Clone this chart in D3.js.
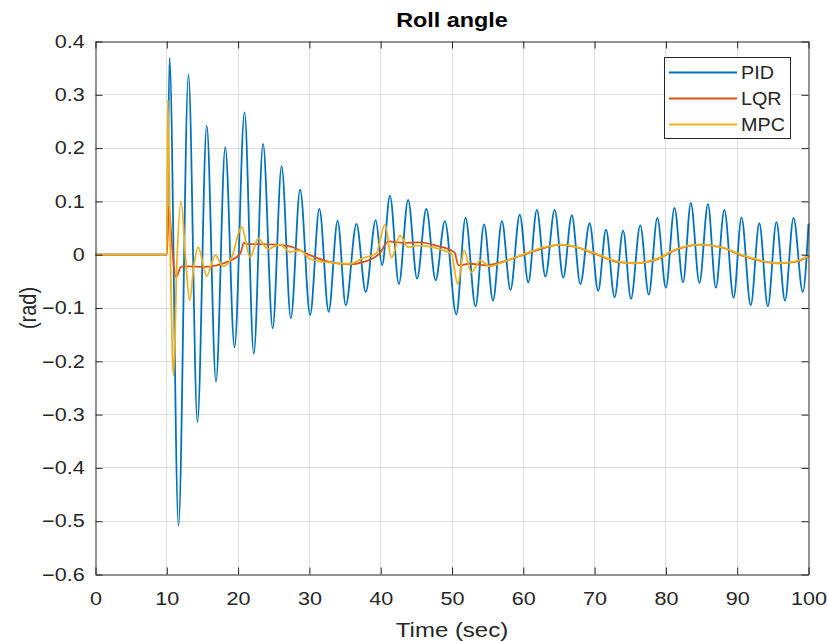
<!DOCTYPE html>
<html>
<head>
<meta charset="utf-8">
<script src="https://cdn.jsdelivr.net/npm/d3@7"></script>
<style>
  body { margin: 0; background: #fff; }
  text { font-family: "Liberation Sans", Arial, sans-serif; fill: #262626; }
</style>
</head>
<body>
<div id="chart"></div>
<script>
// ticks
const xTicks = [0, 10, 20, 30, 40, 50, 60, 70, 80, 90, 100];
const yTicks = [-0.6, -0.5, -0.4, -0.3, -0.2, -0.1, 0, 0.1, 0.2, 0.3, 0.4];

// series names
const seriesNames = ["PID", "LQR", "MPC"];
const seriesColors = ["#0072BD", "#D95319", "#EDB120"];

// PID roll angle: [time (sec), rad], read from the peaks / troughs
const pid = [
  [0, 0], [10, 0], [10.38, 0.369], [11.64, -0.508], [13.04, 0.338], [14.3, -0.314],
  [15.6, 0.242], [16.9, -0.238], [18.2, 0.202], [19.5, -0.174], [20.9, 0.267],
  [22.2, -0.186], [23.5, 0.208], [24.85, -0.138], [26.1, 0.166], [27.4, -0.119],
  [28.7, 0.122], [30.1, -0.113], [31.4, 0.086], [32.7, -0.107], [33.96, 0.064],
  [35.1, -0.095], [36.6, 0.058], [37.9, -0.070], [39.3, 0.065], [40.2, -0.020],
  [41.3, 0.111], [42.55, -0.055], [43.85, 0.103], [45.1, -0.045], [46.4, 0.086],
  [47.7, -0.048], [49.0, 0.063], [50.6, -0.112], [51.9, 0.069], [53.3, -0.097],
  [54.5, 0.057], [55.75, -0.086], [57.0, 0.063], [58.2, -0.066], [59.5, 0.075],
  [60.7, -0.052], [61.9, 0.084], [63.1, -0.041], [64.4, 0.084], [65.6, -0.043],
  [66.8, 0.074], [68.0, -0.055], [69.3, 0.059], [70.5, -0.068], [71.6, 0.047],
  [72.8, -0.080], [74.0, 0.045], [75.1, -0.083], [76.4, 0.055], [77.6, -0.075],
  [78.8, 0.069], [80.0, -0.062], [81.2, 0.088], [82.4, -0.052], [83.5, 0.097],
  [84.7, -0.053], [85.9, 0.095], [87.0, -0.062], [88.2, 0.084], [89.5, -0.081],
  [90.6, 0.070], [91.9, -0.095], [93.1, 0.059], [94.3, -0.097], [95.5, 0.061],
  [96.7, -0.086], [97.9, 0.069], [99.2, -0.070], [100, 0.058]
];

// LQR roll angle
const lqr = [
  [0, 0], [10, 0], [10.3, 0.091], [10.7, 0.02], [11.3, -0.042], [12.0, -0.023],
  [13.0, -0.022], [15.0, -0.023], [17.0, -0.020], [18.4, -0.014], [20.3, 0.002],
  [20.8, 0.022], [21.3, 0.020], [23.0, 0.020], [25.4, 0.019], [27.7, 0.014],
  [30.1, -0.001], [32.9, -0.014], [35.7, -0.018], [37.5, -0.014], [39.9, 0.003],
  [41.05, 0.025], [43.2, 0.022], [45.5, 0.023], [47.8, 0.017], [49.9, 0.008],
  [50.4, 0.003], [50.9, -0.020], [52.5, -0.017], [54.8, -0.020], [56, -0.017],
  [59.7, -0.002], [63, 0.013], [65.3, 0.019], [67.2, 0.015], [70, 0.002],
  [73.3, -0.014], [75.6, -0.016], [78.9, -0.008], [81.2, 0.008], [84.9, 0.019],
  [87.7, 0.014], [91, -0.003], [95.7, -0.016], [98, -0.014], [100, -0.003]
];

// MPC roll angle
const mpc = [
  [0, 0], [10, 0], [10.15, 0.29], [10.5, 0.0], [10.94, -0.227], [11.4, -0.02],
  [12.0, 0.100], [12.6, 0.0], [13.2, -0.086], [13.8, -0.02], [14.4, 0.014],
  [15.6, -0.040], [16.8, -0.001], [17.9, -0.022], [19.1, -0.005], [20.5, 0.052],
  [21.7, -0.005], [22.8, 0.030], [24.2, 0.011], [25.9, 0.019], [27.3, 0.005],
  [28.7, 0.008], [30.1, -0.008], [32.4, -0.014], [35.7, -0.017], [37.6, -0.006],
  [39.4, 0.003], [40.6, 0.057], [41.5, -0.006], [42.7, 0.036], [43.85, 0.014],
  [45.0, 0.017], [46.9, 0.015], [48.75, 0.008], [49.9, 0.002], [50.8, -0.055],
  [51.7, 0.008], [52.7, -0.033], [54.0, -0.011], [55.3, -0.022], [56.5, -0.017],
  [59.7, -0.001], [63, 0.014], [65.3, 0.019], [67.2, 0.015], [70, 0.003],
  [73.3, -0.013], [75.6, -0.016], [78.9, -0.007], [81.2, 0.009], [84.9, 0.019],
  [87.7, 0.014], [91, -0.002], [95.7, -0.016], [98, -0.013], [100, -0.003]
];

const width = 827, height = 642;
const plot = { left: 95.5, right: 808.5, top: 41.5, bottom: 574.5 };
const stretch = 1.2;   // the figure text is a bit wider than it is tall

const svg = d3.select("#chart").append("svg")
  .attr("width", width)
  .attr("height", height);

const x = d3.scaleLinear().domain([0, 100]).range([plot.left, plot.right]);
const y = d3.scaleLinear().domain([-0.6, 0.4]).range([plot.bottom, plot.top]);
const crisp = v => Math.round(v - 0.5) + 0.5;

// grid
const grid = svg.append("g")
  .attr("stroke", "#262626")
  .attr("stroke-opacity", 0.15)
  .attr("stroke-width", 1);

grid.selectAll("line.vx")
  .data(xTicks.slice(1, -1))
  .join("line")
  .attr("x1", d => crisp(x(d))).attr("x2", d => crisp(x(d)))
  .attr("y1", plot.top).attr("y2", plot.bottom);

grid.selectAll("line.hy")
  .data(yTicks.slice(1, -1))
  .join("line")
  .attr("y1", d => crisp(y(d))).attr("y2", d => crisp(y(d)))
  .attr("x1", plot.left).attr("x2", plot.right);

// lines
const line = d3.line()
  .x(d => x(d[0]))
  .y(d => y(d[1]))
  .curve(d3.curveMonotoneX);

[pid, lqr, mpc].forEach((data, i) => {
  svg.append("path")
    .datum(data)
    .attr("fill", "none")
    .attr("stroke", seriesColors[i])
    .attr("stroke-width", 1.8)
    .attr("stroke-linejoin", "round")
    .attr("d", line);
});

// axes (ticks pointing inward, box on)
const tickLen = 7;
const fontSize = 18;

const styleAxis = g => {
  g.select(".domain").attr("stroke", "#262626").attr("stroke-width", 1);
  g.selectAll(".tick line").attr("stroke", "#262626");
  g.selectAll("text").attr("font-size", fontSize).attr("fill", "#262626")
    .attr("font-family", '"Liberation Sans", Arial, sans-serif');
};

svg.append("g")
  .attr("transform", `translate(0,${plot.bottom})`)
  .call(d3.axisBottom(x).tickValues(xTicks).tickSizeInner(-tickLen).tickSizeOuter(0).tickPadding(18))
  .call(styleAxis)
  .selectAll("text").attr("transform", `scale(${stretch},1)`);

svg.append("g")
  .attr("transform", `translate(0,${plot.top})`)
  .call(d3.axisTop(x).tickValues(xTicks).tickSizeInner(-tickLen).tickSizeOuter(0).tickFormat(""))
  .call(styleAxis);

svg.append("g")
  .attr("transform", `translate(${plot.left},0)`)
  .call(d3.axisLeft(y).tickValues(yTicks).tickSizeInner(-tickLen).tickSizeOuter(0).tickPadding(9)
    .tickFormat(d => d === 0 ? "0" : d3.format(".1f")(d)))
  .call(styleAxis)
  .selectAll("text").attr("transform", `scale(${stretch},1)`);

svg.append("g")
  .attr("transform", `translate(${plot.right},0)`)
  .call(d3.axisRight(y).tickValues(yTicks).tickSizeInner(-tickLen).tickSizeOuter(0).tickFormat(""))
  .call(styleAxis);

// title and labels
const midX = (plot.left + plot.right) / 2;

svg.append("text")
  .attr("transform", `translate(${midX},27) scale(${stretch},1)`)
  .attr("text-anchor", "middle")
  .attr("font-size", 19.5)
  .attr("font-weight", "bold")
  .style("fill", "#000")
  .text("Roll angle");

svg.append("text")
  .attr("transform", `translate(${midX},637) scale(${stretch},1)`)
  .attr("text-anchor", "middle")
  .attr("font-size", 20)
  .text("Time (sec)");

svg.append("text")
  .attr("transform", `translate(36,${(plot.top + plot.bottom) / 2}) rotate(-90) scale(1,${stretch})`)
  .attr("text-anchor", "middle")
  .attr("font-size", 20)
  .text("(rad)");

// legend
const legend = svg.append("g");
legend.append("rect")
  .attr("x", 664.5).attr("y", 57.5)
  .attr("width", 126).attr("height", 81)
  .attr("fill", "#fff")
  .attr("stroke", "#262626")
  .attr("stroke-width", 1);

const rowY = [72.5, 98.5, 124.5];
seriesNames.forEach((name, i) => {
  legend.append("line")
    .attr("x1", 669).attr("x2", 737)
    .attr("y1", rowY[i]).attr("y2", rowY[i])
    .attr("stroke", seriesColors[i])
    .attr("stroke-width", 1.8);
  legend.append("text")
    .attr("transform", `translate(741,${rowY[i] + 6.5}) scale(1.13,1)`)
    .attr("font-size", 17.5)
    .text(name);
});
</script>
</body>
</html>
